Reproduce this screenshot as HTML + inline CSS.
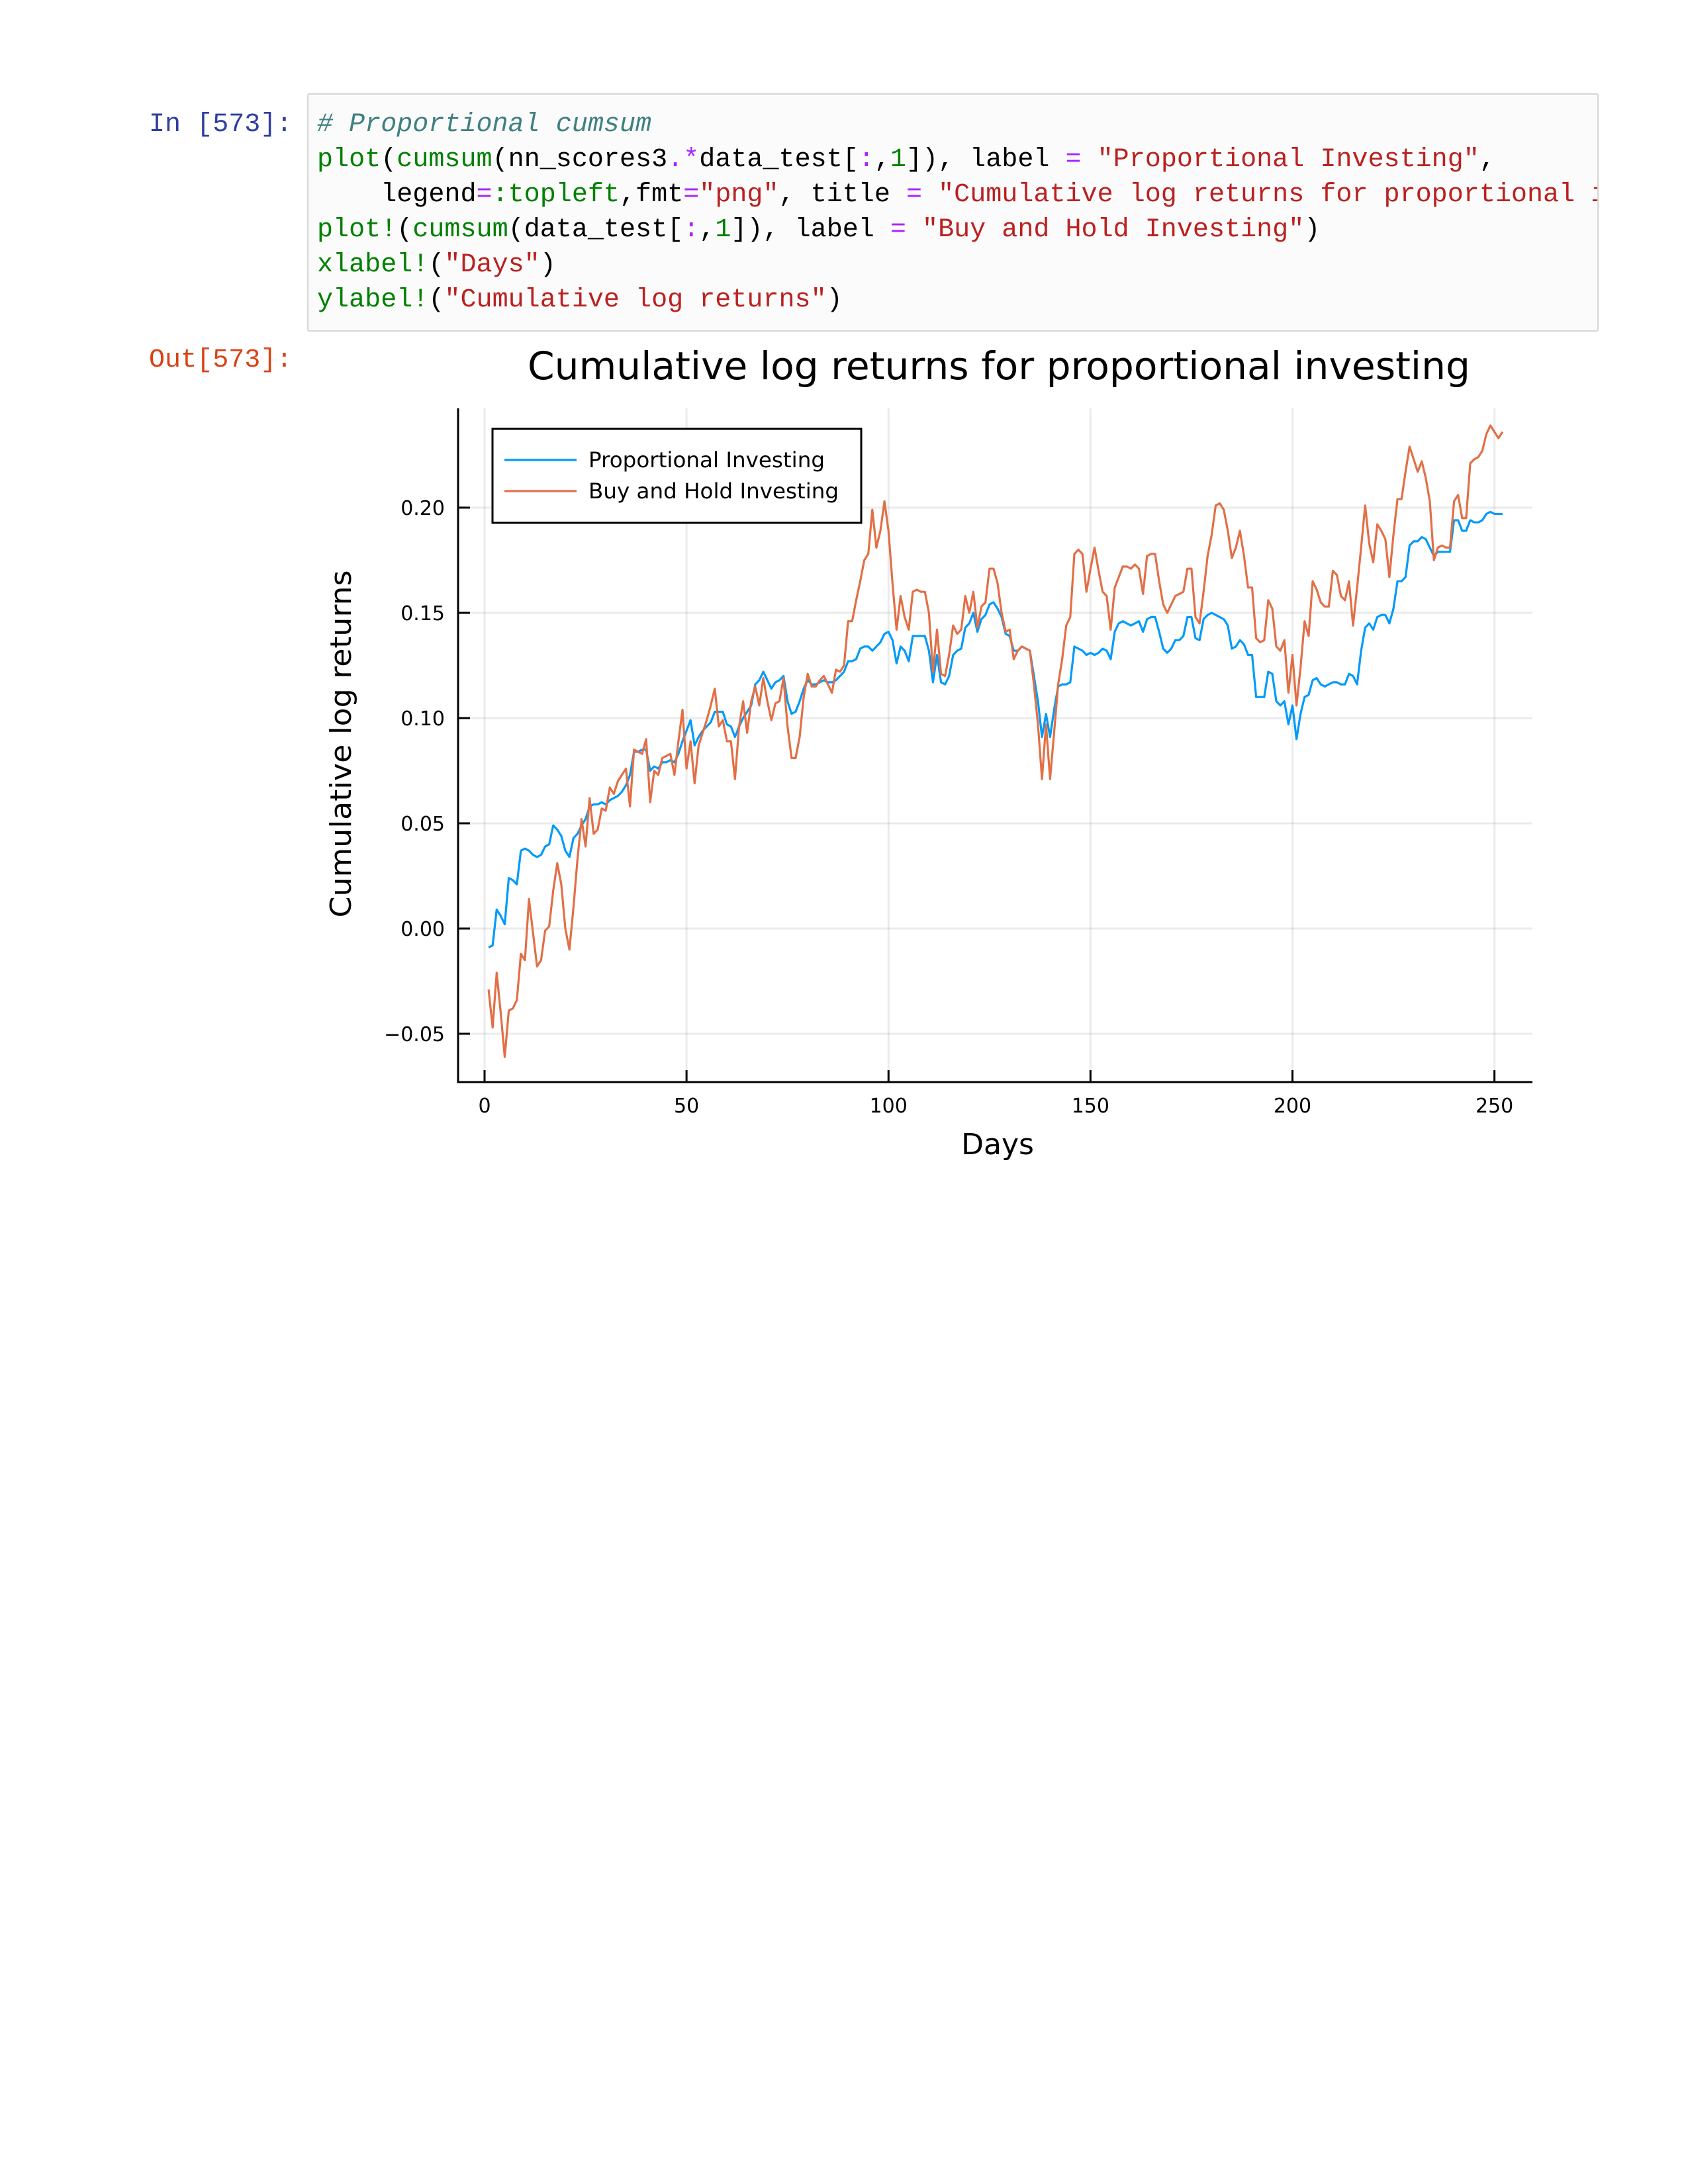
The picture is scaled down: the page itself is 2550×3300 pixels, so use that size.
<!DOCTYPE html>
<html><head><meta charset="utf-8">
<style>
body{margin:0;background:#fff;width:2550px;height:3300px;position:relative;overflow:hidden}
.mono{font-family:"Liberation Mono",monospace;font-size:40.1px;line-height:53px;white-space:pre;position:absolute}
.g{color:#008000}.s{color:#BA2121}.o{color:#AA22FF}.c{color:#408080;font-style:italic}.n{color:#008000}
</style></head><body>
<div class="mono" style="left:225px;top:162px;color:#303F9F">In [573]:</div>
<div style="position:absolute;left:464px;top:141px;width:1947px;height:356px;background:#fbfbfb;border:2px solid #d6d6d6;border-radius:3px;overflow:hidden">
<div class="mono" style="left:13px;top:19px"><span class="c"># Proportional cumsum</span>
<span class="g">plot</span>(<span class="g">cumsum</span>(nn_scores3<span class="o">.*</span>data_test[<span class="o">:</span>,<span class="n">1</span>]), label <span class="o">=</span> <span class="s">"Proportional Investing"</span>,
    legend<span class="o">=</span><span class="g">:topleft</span>,fmt<span class="o">=</span><span class="s">"png"</span>, title <span class="o">=</span> <span class="s">"Cumulative log returns for proportional investing"</span>)
<span class="g">plot!</span>(<span class="g">cumsum</span>(data_test[<span class="o">:</span>,<span class="n">1</span>]), label <span class="o">=</span> <span class="s">"Buy and Hold Investing"</span>)
<span class="g">xlabel!</span>(<span class="s">"Days"</span>)
<span class="g">ylabel!</span>(<span class="s">"Cumulative log returns"</span>)</div>
</div>
<div class="mono" style="left:225px;top:518px;color:#D84315">Out[573]:</div>
<svg id="chart" style="position:absolute;left:0;top:0" width="2550" height="1800" font-family="DejaVu Sans, Liberation Sans, sans-serif"></svg>
<script>
const xTicks=[0,50,100,150,200,250];
const yTicks=[-0.05,0,0.05,0.10,0.15,0.20];
const yTickLabels=["\u22120.05","0.00","0.05","0.10","0.15","0.20"];
const propValues=[-0.009,-0.008,0.009,0.006,0.002,0.024,0.023,0.021,0.037,0.038,0.037,0.035,0.034,0.035,0.039,0.040,0.049,0.047,0.044,0.037,0.034,0.043,0.045,0.049,0.052,0.058,0.059,0.059,0.060,0.059,0.061,0.062,0.063,0.065,0.068,0.073,0.084,0.084,0.085,0.085,0.075,0.077,0.076,0.079,0.079,0.080,0.079,0.083,0.089,0.094,0.099,0.087,0.091,0.094,0.096,0.098,0.103,0.103,0.103,0.097,0.096,0.091,0.096,0.100,0.103,0.106,0.116,0.118,0.122,0.118,0.114,0.117,0.118,0.120,0.108,0.102,0.103,0.108,0.114,0.118,0.116,0.116,0.117,0.118,0.117,0.117,0.118,0.120,0.122,0.127,0.127,0.128,0.133,0.134,0.134,0.132,0.134,0.136,0.140,0.141,0.137,0.126,0.134,0.132,0.127,0.139,0.139,0.139,0.139,0.132,0.117,0.130,0.117,0.116,0.120,0.130,0.132,0.133,0.143,0.145,0.150,0.141,0.147,0.149,0.154,0.155,0.152,0.148,0.140,0.139,0.132,0.132,0.134,0.133,0.132,0.120,0.108,0.091,0.102,0.091,0.104,0.115,0.116,0.116,0.117,0.134,0.133,0.132,0.130,0.131,0.130,0.131,0.133,0.132,0.128,0.141,0.145,0.146,0.145,0.144,0.145,0.146,0.141,0.147,0.148,0.148,0.141,0.133,0.131,0.133,0.137,0.137,0.139,0.148,0.148,0.138,0.137,0.147,0.149,0.150,0.149,0.148,0.147,0.144,0.133,0.134,0.137,0.135,0.130,0.130,0.110,0.110,0.110,0.122,0.121,0.108,0.106,0.108,0.097,0.106,0.090,0.102,0.110,0.111,0.118,0.119,0.116,0.115,0.116,0.117,0.117,0.116,0.116,0.121,0.120,0.116,0.132,0.143,0.145,0.142,0.148,0.149,0.149,0.145,0.152,0.165,0.165,0.167,0.182,0.184,0.184,0.186,0.185,0.181,0.177,0.179,0.179,0.179,0.179,0.194,0.194,0.189,0.189,0.194,0.193,0.193,0.194,0.197,0.198,0.197,0.197,0.197];
const holdValues=[-0.029,-0.047,-0.021,-0.040,-0.061,-0.039,-0.038,-0.034,-0.012,-0.015,0.014,-0.002,-0.018,-0.015,-0.001,0.001,0.018,0.031,0.021,0.000,-0.010,0.010,0.033,0.052,0.039,0.062,0.045,0.047,0.057,0.056,0.067,0.064,0.070,0.073,0.076,0.058,0.085,0.084,0.083,0.090,0.060,0.075,0.073,0.081,0.082,0.083,0.073,0.089,0.104,0.076,0.089,0.069,0.087,0.093,0.099,0.106,0.114,0.096,0.099,0.089,0.089,0.071,0.096,0.108,0.093,0.108,0.115,0.106,0.119,0.108,0.099,0.107,0.108,0.119,0.096,0.081,0.081,0.091,0.110,0.121,0.115,0.115,0.118,0.120,0.116,0.112,0.123,0.122,0.125,0.146,0.146,0.156,0.165,0.175,0.178,0.199,0.181,0.189,0.203,0.189,0.164,0.142,0.158,0.148,0.142,0.160,0.161,0.160,0.160,0.150,0.122,0.142,0.121,0.120,0.130,0.144,0.140,0.142,0.158,0.150,0.160,0.143,0.153,0.155,0.171,0.171,0.164,0.150,0.141,0.142,0.128,0.132,0.134,0.133,0.132,0.116,0.097,0.071,0.097,0.071,0.093,0.116,0.128,0.144,0.148,0.178,0.180,0.178,0.160,0.171,0.181,0.170,0.160,0.158,0.142,0.162,0.167,0.172,0.172,0.171,0.173,0.171,0.159,0.177,0.178,0.178,0.165,0.154,0.150,0.154,0.158,0.159,0.160,0.171,0.171,0.148,0.145,0.160,0.177,0.187,0.201,0.202,0.199,0.189,0.176,0.181,0.189,0.177,0.162,0.162,0.138,0.136,0.137,0.156,0.152,0.134,0.132,0.137,0.112,0.130,0.106,0.124,0.146,0.139,0.165,0.161,0.155,0.153,0.153,0.170,0.168,0.158,0.156,0.165,0.144,0.162,0.181,0.201,0.183,0.174,0.192,0.189,0.185,0.167,0.187,0.204,0.204,0.217,0.229,0.223,0.217,0.222,0.214,0.203,0.175,0.181,0.182,0.181,0.181,0.203,0.206,0.195,0.195,0.221,0.223,0.224,0.227,0.235,0.239,0.236,0.233,0.236];

const svg=document.getElementById('chart');
const NS='http://www.w3.org/2000/svg';
const L=692,R=2315,T=617,B=1635;
function xs(d){return 732+(d/250)*(2257.6-732);}
function ys(v){return 767+(0.20-v)/0.05*159;}
function mk(tag,attrs,parent){const e=document.createElementNS(NS,tag);for(const k in attrs)e.setAttribute(k,attrs[k]);(parent||svg).appendChild(e);return e;}

xTicks.forEach(t=>{const g=mk('line',{x1:xs(t),x2:xs(t),y1:T,y2:B,stroke:'#000','stroke-opacity':0.08,'stroke-width':3});

});
yTicks.forEach(t=>{const g=mk('line',{x1:L,x2:R,y1:ys(t),y2:ys(t),stroke:'#000','stroke-opacity':0.08,'stroke-width':3});

});
const ax=mk('path',{d:`M${L},${T} L${L},${B} L${R},${B}`,fill:'none',stroke:'#000','stroke-width':3});


xTicks.forEach(t=>{mk('line',{x1:xs(t),x2:xs(t),y1:B,y2:B-18,stroke:'#000','stroke-width':3});
const tx=mk('text',{x:xs(t),y:B+46,'text-anchor':'middle','font-size':30,fill:'#000'});tx.textContent=t;

});
yTicks.forEach((t,i)=>{mk('line',{x1:L,x2:L+18,y1:ys(t),y2:ys(t),stroke:'#000','stroke-width':3});
const tx=mk('text',{x:L-20,y:ys(t)+11,'text-anchor':'end','font-size':30,fill:'#000'});tx.textContent=yTickLabels[i];

});
function line(vals,color,name){const d=vals.map((v,i)=>(i?'L':'M')+xs(i+1).toFixed(1)+','+ys(v).toFixed(1)).join(' ');
const p=mk('path',{d:d,fill:'none',stroke:color,'stroke-width':3.2,'stroke-linejoin':'round'});

}
line(propValues,'#009AFA','proportional-investing-line');
line(holdValues,'#E26F46','buy-and-hold-line');
const ti=mk('text',{x:1509,y:573,'text-anchor':'middle','font-size':58,fill:'#000',textLength:1424,lengthAdjust:'spacingAndGlyphs'});ti.textContent='Cumulative log returns for proportional investing';


const xl=mk('text',{x:1507,y:1744,'text-anchor':'middle','font-size':44,fill:'#000'});xl.textContent='Days';


const yl=mk('text',{x:0,y:0,'text-anchor':'middle','font-size':44,fill:'#000',textLength:525,lengthAdjust:'spacingAndGlyphs',transform:'translate(530,1124) rotate(-90)'});yl.textContent='Cumulative log returns';


const lg=mk('g',{});


mk('rect',{x:744,y:648,width:557,height:142,fill:'#fff',stroke:'#000','stroke-width':3},lg);
mk('line',{x1:762,x2:871,y1:695,y2:695,stroke:'#009AFA','stroke-width':3.2},lg);
mk('line',{x1:762,x2:871,y1:742,y2:742,stroke:'#E26F46','stroke-width':3.2},lg);
const t1=mk('text',{x:889,y:706,'font-size':32,fill:'#000',textLength:357,lengthAdjust:'spacingAndGlyphs'},lg);t1.textContent='Proportional Investing';


const t2=mk('text',{x:889,y:753,'font-size':32,fill:'#000',textLength:378,lengthAdjust:'spacingAndGlyphs'},lg);t2.textContent='Buy and Hold Investing';


</script>
</body></html>
